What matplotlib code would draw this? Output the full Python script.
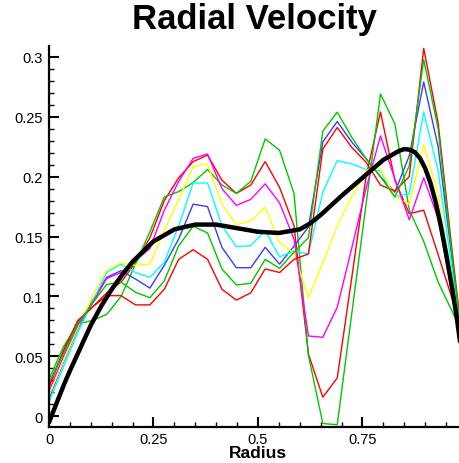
import numpy as np
import matplotlib
matplotlib.use('Agg')
import matplotlib.pyplot as plt
from matplotlib.ticker import MultipleLocator, FuncFormatter

plt.rcParams['font.family'] = ['Liberation Sans', 'DejaVu Sans']

# radius stations : 30 points equally spaced on [0, 1]
radius = np.linspace(0.0, 1.0, 30)

# radial velocity profiles
vel_red_1 = [0.027, 0.054, 0.079, 0.091, 0.103, 0.112, 0.128, 0.149, 0.180, 0.199,
             0.2125, 0.218, 0.197, 0.186, 0.193, 0.2125, 0.191, 0.159, 0.052, 0.016,
             0.032, 0.115, 0.200, 0.254, 0.197, 0.169, 0.172, 0.135, 0.097, 0.060]
vel_green_1 = [0.031, 0.058, 0.077, 0.080, 0.085, 0.100, 0.127, 0.154, 0.183, 0.1875,
               0.195, 0.206, 0.193, 0.186, 0.196, 0.2315, 0.222, 0.186, 0.051, -0.006,
               -0.007, 0.085, 0.177, 0.269, 0.244, 0.172, 0.146, 0.112, 0.087, 0.060]
vel_blue = [0.015, 0.045, 0.073, 0.096, 0.116, 0.1215, 0.1146, 0.107, 0.126, 0.148,
            0.177, 0.175, 0.141, 0.124, 0.124, 0.141, 0.127, 0.142, 0.158, 0.229,
            0.246, 0.229, 0.215, 0.200, 0.187, 0.2175, 0.279, 0.225, 0.128, 0.030]
vel_cyan = [0.012, 0.041, 0.070, 0.095, 0.120, 0.127, 0.120, 0.116, 0.1285, 0.159,
            0.1947, 0.1947, 0.159, 0.1416, 0.1424, 0.155, 0.133, 0.138, 0.1355, 0.187,
            0.2134, 0.2106, 0.206, 0.205, 0.183, 0.186, 0.254, 0.205, 0.120, 0.030]
vel_yellow = [0.017, 0.046, 0.074, 0.100, 0.122, 0.128, 0.126, 0.127, 0.155, 0.181,
              0.2084, 0.2106, 0.177, 0.160, 0.163, 0.1745, 0.145, 0.136, 0.099, 0.128,
              0.159, 0.183, 0.205, 0.206, 0.184, 0.177, 0.2265, 0.185, 0.110, 0.030]
vel_magenta = [0.021, 0.050, 0.076, 0.094, 0.115, 0.120, 0.130, 0.140, 0.172, 0.196,
               0.2153, 0.2189, 0.190, 0.176, 0.181, 0.194, 0.178, 0.148, 0.067, 0.066,
               0.091, 0.140, 0.190, 0.234, 0.198, 0.164, 0.199, 0.165, 0.100, 0.030]
vel_red_2 = [0.024, 0.055, 0.080, 0.091, 0.1007, 0.1007, 0.093, 0.093, 0.106, 0.131,
             0.139, 0.131, 0.106, 0.097, 0.103, 0.123, 0.120, 0.131, 0.1355, 0.223,
             0.241, 0.2245, 0.212, 0.193, 0.188, 0.200, 0.307, 0.245, 0.135, 0.030]
vel_green_2 = [0.028, 0.052, 0.077, 0.094, 0.110, 0.112, 0.1035, 0.099, 0.113, 0.1424,
               0.1586, 0.153, 0.123, 0.1096, 0.111, 0.131, 0.1235, 0.137, 0.149, 0.238,
               0.2538, 0.233, 0.215, 0.200, 0.183, 0.209, 0.2977, 0.240, 0.130, 0.030]

# mean trend (thick black curve)
fit_x = [0.0, 0.0125, 0.025, 0.0375, 0.05, 0.075, 0.1, 0.125, 0.15, 0.175, 0.2,
         0.25, 0.3, 0.35, 0.4, 0.45, 0.5, 0.55, 0.6, 0.625, 0.65, 0.7, 0.75, 0.8,
         0.825, 0.8375, 0.85, 0.8625, 0.875, 0.8875, 0.9, 0.9125, 0.925, 0.9375,
         0.95, 0.9625, 0.975, 1.0]
fit_y = [-0.005, 0.006, 0.017, 0.028, 0.038, 0.057, 0.076, 0.092, 0.106, 0.118,
         0.129, 0.146, 0.156, 0.160, 0.160, 0.157, 0.154, 0.153, 0.156, 0.161,
         0.168, 0.184, 0.199, 0.214, 0.219, 0.2215, 0.223, 0.2225, 0.2205, 0.2155,
         0.207, 0.195, 0.179, 0.159, 0.136, 0.111, 0.084, 0.020]

profiles = [(vel_red_1, '#ff0000'), (vel_green_1, '#00c800'), (vel_blue, '#3c3cff'),
            (vel_cyan, '#00ffff'), (vel_yellow, '#ffff00'), (vel_magenta, '#ff00ff'),
            (vel_red_2, '#ff0000'), (vel_green_2, '#00c800')]

fig = plt.figure(figsize=(4.59, 4.64), dpi=100)
ax = fig.add_axes([49/459, 36/464, 410/459, 381/464])

for vals, col in profiles:
    ax.plot(radius, vals, color=col, lw=1.0)
ax.plot(fit_x, fit_y, color='black', lw=3.2, solid_joinstyle='round',
        solid_capstyle='round')

ax.set_xlim(0, 0.981)
ax.set_ylim(-0.0089, 0.309)

fmt = FuncFormatter(lambda v, p: '%g' % round(v, 4))
ax.xaxis.set_major_locator(MultipleLocator(0.25))
ax.xaxis.set_minor_locator(MultipleLocator(0.05))
ax.yaxis.set_major_locator(MultipleLocator(0.05))
ax.yaxis.set_minor_locator(MultipleLocator(0.01))
ax.xaxis.set_major_formatter(fmt)
ax.yaxis.set_major_formatter(fmt)

for side in ['top', 'right']:
    ax.spines[side].set_visible(False)
for side in ['left', 'bottom']:
    ax.spines[side].set_linewidth(1.6)

ax.tick_params(which='major', direction='in', length=7, width=1.5, labelsize=10.5)
ax.tick_params(which='minor', direction='in', length=3.6, width=1.0)
ax.tick_params(axis='x', which='major', pad=3.5)
ax.tick_params(axis='y', which='major', pad=4.3)

fig.text(254/459, 1 - 20/464, 'Radial Velocity', ha='center', va='center',
         fontsize=25, fontweight='bold')
fig.text(258/459, 1 - 454/464, 'Radius', ha='center', va='center',
         fontsize=12.5, fontweight='bold')

fig.savefig('out.png', dpi=100)
